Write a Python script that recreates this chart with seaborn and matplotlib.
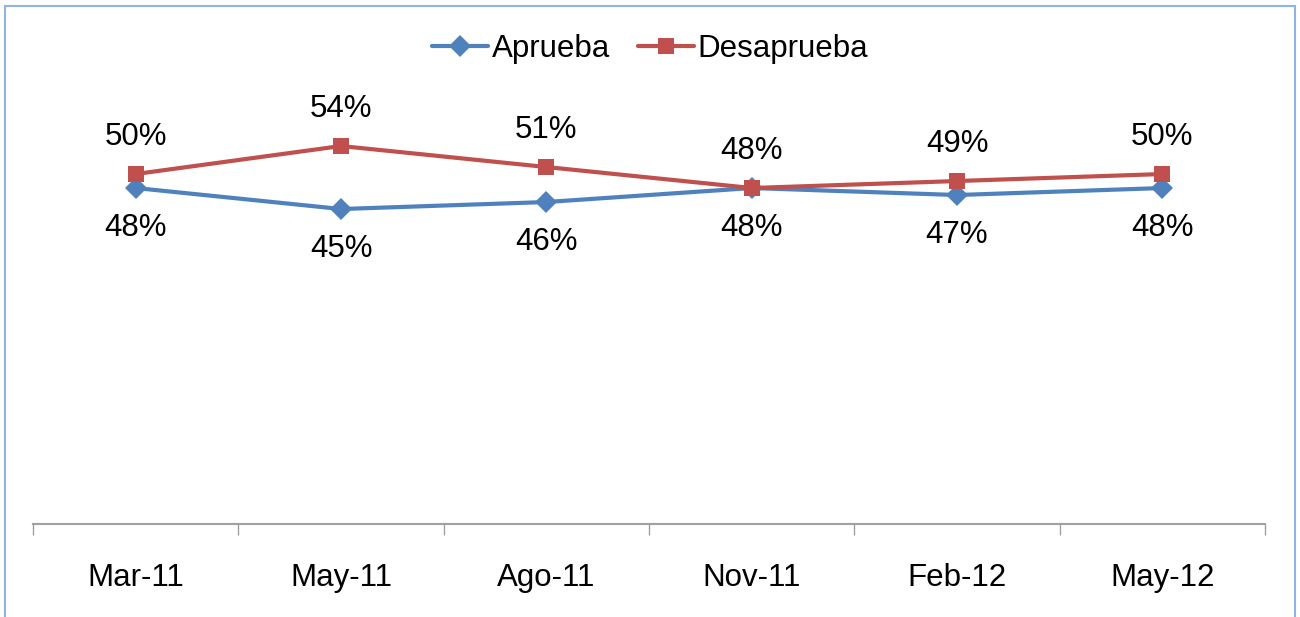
import pandas as pd
import matplotlib.pyplot as plt
import seaborn as sns
from matplotlib.patches import Rectangle

periods = ["Mar-11", "May-11", "Ago-11", "Nov-11", "Feb-12", "May-12"]
aprueba = [48, 45, 46, 48, 47, 48]
desaprueba = [50, 54, 51, 48, 49, 50]

BLUE = "#4F81BD"
RED = "#C0504D"

sns.set_style("white")
plt.rcParams["font.family"] = ["Liberation Sans", "DejaVu Sans"]
plt.rcParams["text.color"] = "black"
plt.rcParams["xtick.color"] = "black"

df = pd.DataFrame({
    "periodo": periods * 2,
    "pos": list(range(len(periods))) * 2,
    "valor": aprueba + desaprueba,
    "serie": ["Aprueba"] * len(periods) + ["Desaprueba"] * len(periods),
})

fig = plt.figure(figsize=(13, 6.17), dpi=100)
ax = fig.add_axes([0.0254, 0.1507, 0.9477, 0.6807])

sns.lineplot(
    data=df, x="pos", y="valor", hue="serie", style="serie",
    palette={"Aprueba": BLUE, "Desaprueba": RED},
    markers={"Aprueba": "D", "Desaprueba": "s"},
    dashes=False, linewidth=3, markersize=11, markeredgewidth=0,
    ax=ax,
)

# data labels
for i, v in enumerate(aprueba):
    ax.annotate(f"{v}%", (i, v), xytext=(0, -29), textcoords="offset points",
                ha="center", va="center", fontsize=22.5, color="black")
for i, v in enumerate(desaprueba):
    ax.annotate(f"{v}%", (i, v), xytext=(0, 27), textcoords="offset points",
                ha="center", va="center", fontsize=22.5, color="black")

ax.set_xlim(-0.5, len(periods) - 0.5)
ax.set_ylim(0, 60)
ax.set_xticks(range(len(periods)))
ax.set_xticklabels(periods, fontsize=22.5, color="black")
ax.set_xticks([i - 0.5 for i in range(len(periods) + 1)], minor=True)
ax.tick_params(axis="x", which="major", length=0, pad=28)
ax.tick_params(axis="x", which="minor", length=8, width=1, color="#A0A0A0",
               direction="out", bottom=True)
ax.set_yticks([])
ax.set_xlabel("")
ax.set_ylabel("")
for side in ["top", "right", "left"]:
    ax.spines[side].set_visible(False)
ax.spines["bottom"].set_color("#A0A0A0")
ax.spines["bottom"].set_linewidth(1.5)

leg = ax.legend(loc="center", ncol=2, frameon=False, fontsize=22.5,
                handlelength=1.8, handletextpad=0.1, columnspacing=0.9)
for t in leg.get_texts():
    t.set_color("black")
leg.set_bbox_to_anchor((0.5, 1 - 49 / 617), transform=fig.transFigure)

# outer chart border
fig.patches.append(Rectangle((5 / 1300, -0.01), 1290 / 1300, 1 - 6 / 617 + 0.01,
                             transform=fig.transFigure, fill=False,
                             edgecolor="#8EB4E3", linewidth=1.5))

fig.savefig("out.png", dpi=100)
